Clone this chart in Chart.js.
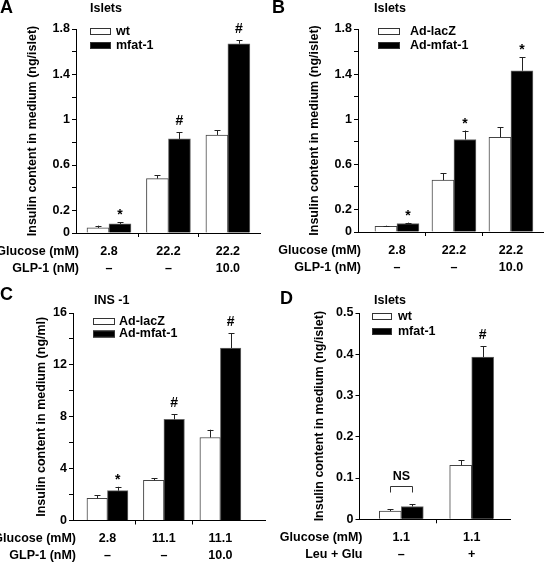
<!DOCTYPE html>
<html>
<head>
<meta charset="utf-8">
<script src="https://cdn.jsdelivr.net/npm/chart.js@4.4.1/dist/chart.umd.min.js"></script>
<style>
  body { margin: 0; background: #fff; }
  canvas { position: absolute; }
</style>
</head>
<body>
<canvas id="panelA" width="272" height="281" style="left:0;top:0"></canvas>
<canvas id="panelB" width="272" height="281" style="left:272px;top:0"></canvas>
<canvas id="panelC" width="272" height="281" style="left:0;top:281px"></canvas>
<canvas id="panelD" width="272" height="281" style="left:272px;top:281px"></canvas>
<script>
// A: islets, wt vs mfat-1 mice
var seriesA = ["wt", "mfat-1"];
var glucoseA = ["2.8", "22.2", "22.2"];
var glpA = ["–", "–", "10.0"];
var wtA = [0.045, 0.48, 0.865];
var wtErrA = [0.02, 0.03, 0.04];
var mfatA = [0.08, 0.83, 1.67];
var mfatErrA = [0.015, 0.06, 0.03];
var marksA = ["*", "#", "#"];
var yLabelsA = ["0", "0.2", "0.6", "1", "1.4", "1.8"];

// B: islets, adenovirus
var seriesB = ["Ad-lacZ", "Ad-mfat-1"];
var glucoseB = ["2.8", "22.2", "22.2"];
var glpB = ["–", "–", "10.0"];
var lacZB = [0.05, 0.46, 0.84];
var lacZErrB = [0.006, 0.06, 0.09];
var mfatB = [0.075, 0.82, 1.43];
var mfatErrB = [0.008, 0.08, 0.12];
var marksB = ["*", "*", "*"];
var yLabelsB = ["0", "0.2", "0.6", "1", "1.4", "1.8"];

// C: INS-1 cells
var seriesC = ["Ad-lacZ", "Ad-mfat-1"];
var glucoseC = ["2.8", "11.1", "11.1"];
var glpC = ["–", "–", "10.0"];
var lacZC = [1.7, 3.1, 6.4];
var lacZErrC = [0.25, 0.15, 0.6];
var mfatC = [2.3, 7.8, 13.3];
var mfatErrC = [0.3, 0.4, 1.15];
var marksC = ["*", "#", "#"];
var yLabelsC = ["0", "4", "8", "12", "16"];

// D: islets, leucine + glutamine
var seriesD = ["wt", "mfat-1"];
var glucoseD = ["1.1", "1.1"];
var leuD = ["–", "+"];
var wtD = [0.02, 0.131];
var wtErrD = [0.004, 0.012];
var mfatD = [0.031, 0.393];
var mfatErrD = [0.006, 0.027];
var marksD = ["", "#"];
var nsD = ["NS", ""];
var yLabelsD = ["0", "0.1", "0.2", "0.3", "0.4", "0.5"];

var FONT = "'Liberation Sans', Arial, sans-serif";
Chart.defaults.font.family = FONT;
var W = 272, H = 281;
var TICK = 4, XPAD = 6, LINE_H = 17;

var decor = {
  id: 'decor',
  afterDatasetsDraw: function(chart, args, o) {
    var ctx = chart.ctx, ys = chart.scales.y;
    ctx.save();
    ctx.strokeStyle = '#222';
    ctx.lineWidth = 1;
    var tops = [];
    chart.data.datasets.forEach(function(ds, i) {
      chart.getDatasetMeta(i).data.forEach(function(bar, j) {
        var top = ys.getPixelForValue(ds.data[j].y + ds.errors[j]);
        var x = Math.round(bar.x) + 0.5;
        ctx.beginPath();
        ctx.moveTo(x, bar.y);
        ctx.lineTo(x, top);
        ctx.moveTo(x - 3, Math.round(top) + 0.5);
        ctx.lineTo(x + 3, Math.round(top) + 0.5);
        ctx.stroke();
        tops[j] = Math.min(tops[j] === undefined ? 1e9 : tops[j], top);
      });
    });
    // significance marks above the second series
    ctx.fillStyle = '#000';
    ctx.textAlign = 'center';
    ctx.textBaseline = 'alphabetic';
    var meta1 = chart.getDatasetMeta(1);
    (o.marks || []).forEach(function(m, j) {
      if (!m) return;
      var ds = chart.data.datasets[1];
      var top = ys.getPixelForValue(ds.data[j].y + ds.errors[j]);
      ctx.font = 'bold 14px ' + FONT;
      ctx.fillText(m, meta1.data[j].x, m === '*' ? top - 3 : top - 7);
    });
    // NS brackets
    (o.ns || []).forEach(function(t, j) {
      if (!t) return;
      var x0 = Math.round(chart.getDatasetMeta(0).data[j].x) + 0.5;
      var x1 = Math.round(meta1.data[j].x) + 0.5;
      var by = Math.round(tops[j] - 18) + 0.5;
      ctx.strokeStyle = '#333';
      ctx.beginPath();
      ctx.moveTo(x0, by + 6);
      ctx.lineTo(x0, by);
      ctx.lineTo(x1, by);
      ctx.lineTo(x1, by + 6);
      ctx.stroke();
      ctx.font = 'bold 12.5px ' + FONT;
      ctx.textBaseline = 'middle';
      ctx.fillText(t, (x0 + x1) / 2, by - 10);
    });
    ctx.restore();
  },
  afterDraw: function(chart, args, o) {
    var ctx = chart.ctx, area = chart.chartArea;
    ctx.save();
    ctx.fillStyle = '#000';
    ctx.textBaseline = 'alphabetic';
    ctx.textAlign = 'left';
    ctx.font = 'bold 18px ' + FONT;
    ctx.fillText(o.letter[0], o.letter[1], o.letter[2]);
    ctx.font = 'bold 12.5px ' + FONT;
    ctx.fillText(o.header[0], o.header[1], o.header[2]);
    // legend
    var lg = o.legend;
    chart.data.datasets.forEach(function(ds, i) {
      var y = lg.y + i * lg.gap;
      ctx.fillStyle = ds.backgroundColor;
      ctx.fillRect(lg.x, y, lg.w, lg.h);
      ctx.strokeStyle = '#333';
      ctx.strokeRect(lg.x + 0.5, y + 0.5, lg.w - 1, lg.h - 1);
      ctx.fillStyle = '#000';
      ctx.textBaseline = 'middle';
      ctx.fillText(ds.label, lg.tx, y + lg.h / 2);
    });
    // row names of the x tick label lines
    ctx.textAlign = 'right';
    ctx.textBaseline = 'middle';
    o.rows.forEach(function(r, i) {
      ctx.fillText(r, area.left + 3, area.bottom + TICK + XPAD + LINE_H / 2 + i * LINE_H);
    });
    ctx.restore();
  }
};

function makePanel(id, p) {
  var n = p.a.length;
  var pts = function(arr) { return arr.map(function(v, i) { return { x: i + 1, y: v }; }); };
  var bold = { family: FONT, size: 12.5, weight: 'bold' };
  new Chart(document.getElementById(id), {
    type: 'bar',
    data: {
      datasets: [
        { label: p.series[0], data: pts(p.a), errors: p.aErr, backgroundColor: '#ffffff',
          borderColor: '#444', borderWidth: 1, barThickness: p.barW },
        { label: p.series[1], data: pts(p.b), errors: p.bErr, backgroundColor: '#000000',
          borderColor: '#666', borderWidth: 1, barThickness: p.barW }
      ]
    },
    plugins: [decor],
    options: {
      responsive: false,
      animation: false,
      events: [],
      layout: { autoPadding: false, padding: { left: 0, top: p.area[1], right: W - p.area[2], bottom: 0 } },
      plugins: {
        legend: { display: false },
        tooltip: { enabled: false },
        decor: { letter: p.letter, header: p.header, legend: p.legend, rows: p.rowNames, marks: p.marks, ns: p.ns }
      },
      scales: {
        x: {
          type: 'linear', min: p.xMin, max: p.xMax, offset: false,
          afterBuildTicks: function(s) {
            var t = [];
            for (var v = 1; v <= n; v += 0.5) t.push({ value: v });
            s.ticks = t;
          },
          afterFit: function(s) { s.height = H - p.area[3]; },
          grid: {
            offset: false, drawOnChartArea: false, tickLength: TICK,
            color: function(c) { return c.tick && c.tick.value % 1 ? '#000' : 'rgba(0,0,0,0)'; }
          },
          border: { color: '#000', width: 1 },
          ticks: {
            autoSkip: false, maxRotation: 0, padding: XPAD, color: '#000',
            font: { family: FONT, size: 12.5, weight: 'bold', lineHeight: LINE_H / 12.5 },
            callback: function(v) {
              if (v % 1) return '';
              return p.rows.map(function(r) { return r[v - 1]; });
            }
          }
        },
        y: {
          min: 0, max: p.yMax,
          afterFit: function(s) { s.width = p.area[0]; },
          grid: { drawOnChartArea: false, tickLength: TICK, color: '#000' },
          border: { color: '#000', width: 1 },
          ticks: {
            stepSize: p.step, autoSkip: false, padding: 2, color: '#000', font: bold,
            callback: function(v) {
              var s = String(Math.round(v * 100) / 100);
              return p.yLabels.indexOf(s) >= 0 ? s : '';
            }
          },
          title: { display: true, text: p.yTitle, color: '#000', font: bold, padding: { top: p.titlePad, bottom: 0 } }
        }
      }
    }
  });
}

makePanel('panelA', {
  series: seriesA, a: wtA, aErr: wtErrA, b: mfatA, bErr: mfatErrA, marks: marksA,
  rows: [glucoseA, glpA], rowNames: ["Glucose (mM)", "GLP-1 (nM)"], yLabels: yLabelsA,
  yMax: 1.8, step: 0.2, yTitle: "Insulin content in medium (ng/islet)",
  area: [76, 29, 260, 233], xMin: 0.445, xMax: 3.54, barW: 22, titlePad: 25,
  letter: ["A", 0, 13], header: ["Islets", 90, 12],
  legend: { x: 90, y: 28, w: 21, h: 7, gap: 14, tx: 116 }
});

makePanel('panelB', {
  series: seriesB, a: lacZB, aErr: lacZErrB, b: mfatB, bErr: mfatErrB, marks: marksB,
  rows: [glucoseB, glpB], rowNames: ["Glucose (mM)", "GLP-1 (nM)"], yLabels: yLabelsB,
  yMax: 1.8, step: 0.2, yTitle: "Insulin content in medium (ng/islet)",
  area: [86, 29, 272, 232], xMin: 0.316, xMax: 3.58, barW: 22, titlePad: 35,
  letter: ["B", 0, 13], header: ["Islets", 102, 12],
  legend: { x: 106, y: 28, w: 22, h: 7, gap: 14, tx: 138 }
});

makePanel('panelC', {
  series: seriesC, a: lacZC, aErr: lacZErrC, b: mfatC, bErr: mfatErrC, marks: marksC,
  rows: [glucoseC, glpC], rowNames: ["Glucose (mM)", "GLP-1 (nM)"], yLabels: yLabelsC,
  yMax: 16, step: 2, yTitle: "Insulin content in medium (ng/ml)",
  area: [73, 32, 265, 239.5], xMin: 0.39, xMax: 3.79, barW: 20.5, titlePad: 34,
  letter: ["C", 0, 19], header: ["INS -1", 94, 23],
  legend: { x: 93, y: 37, w: 22, h: 7, gap: 12.5, tx: 119 }
});

makePanel('panelD', {
  series: seriesD, a: wtD, aErr: wtErrD, b: mfatD, bErr: mfatErrD, marks: marksD, ns: nsD,
  rows: [glucoseD, leuD], rowNames: ["Glucose (mM)", "Leu + Glu"], yLabels: yLabelsD,
  yMax: 0.5, step: 0.1, yTitle: "Insulin content in medium (ng/islet)",
  area: [87.5, 32, 238.7, 238.3], xMin: 0.406, xMax: 2.554, barW: 22, titlePad: 40,
  letter: ["D", 8, 23], header: ["Islets", 102, 23],
  legend: { x: 100, y: 32, w: 20, h: 7, gap: 15, tx: 126 }
});
</script>
</body>
</html>
